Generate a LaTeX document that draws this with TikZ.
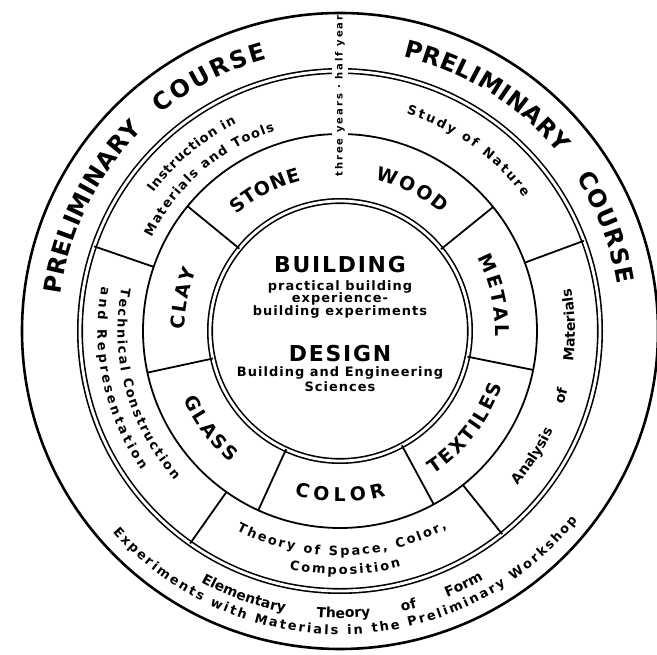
\documentclass[tikz,border=0pt]{standalone}
\usepackage{fontspec}
\setmainfont{DejaVu Sans}
\usetikzlibrary{decorations.text}

\begin{document}
\begin{tikzpicture}[x=1bp,y=1bp]
	\tikzset{rope/.style = {draw, line width=1.6bp, double distance=2.8bp}}
	\tikzset{ring/.style = {draw, line width=1.8bp}}
	\tikzset{spoke/.style = {draw, line width=1.8bp}}
	\tikzset{arctext/.style 2 args = {decorate, decoration={text along path, text align={fit to path}, text={|#1|#2}}}}
	\tikzset{gaptext/.style 2 args = {decorate, decoration={text along path, text align={fit to path stretching spaces}, text={|#1|#2}}}}
	\tikzset{bigtext/.style = {arctext={\fontsize{24}{26}\selectfont\bfseries}{#1}}}
	\tikzset{shoptext/.style = {arctext={\fontsize{19}{21}\selectfont\bfseries}{#1}}}
	\tikzset{smalltext/.style = {arctext={\fontsize{13}{15}\selectfont\bfseries}{#1}}}
	\tikzset{widetext/.style = {gaptext={\fontsize{14}{16}\selectfont\bfseries}{#1}}}
	\tikzset{coretext/.style = {font={\fontsize{13}{15}\selectfont\bfseries\addfontfeatures{LetterSpace=8}}, anchor=base, inner sep=0pt}}
	\tikzset{headtext/.style = {font={\fontsize{22}{24}\selectfont\bfseries\addfontfeatures{LetterSpace=8}}, anchor=base, inner sep=0pt}}
	\fill[white] (-340,-324) rectangle (317,331);
	\useasboundingbox (-340,-324) rectangle (317,331);
	%rings
	\draw[rope] (0,0) circle (260);
	\draw[ring] (0,0) circle (197);
	\node[fill=white, rotate=90, inner xsep=1bp, inner ysep=3bp, font={\fontsize{10}{12}\selectfont\bfseries\addfontfeatures{LetterSpace=20}}] (7) at (0,235) {three years · half year};
	\draw[line width=2.6bp] (0,0) circle (318);
	\draw[rope] (0,0) circle (130);
	%spokes
	\draw[spoke] (140.7:130) -- (140.7:197);
	\draw[spoke] (192.2:130) -- (192.2:197);
	\draw[spoke] (245.5:130) -- (245.5:197);
	\draw[spoke] (298.4:130) -- (298.4:197);
	\draw[spoke] (348.6:130) -- (348.6:197);
	\draw[spoke] (39:130) -- (39:197);
	\draw[spoke] (161:197) -- (161:260);
	\draw[spoke] (234.8:197) -- (234.8:260);
	\draw[spoke] (308.6:197) -- (308.6:260);
	\draw[spoke] (20.3:197) -- (20.3:260);
	%centre
	\node[headtext] (0) at (0,58) {BUILDING};
	\node[coretext] (1) at (0,40) {practical building};
	\node[coretext] (2) at (0,28) {experience-};
	\node[coretext] (3) at (0,15) {building experiments};
	\node[headtext] (4) at (0,-31) {DESIGN};
	\node[coretext] (5) at (0,-46) {Building and Engineering};
	\node[coretext] (6) at (0,-61) {Sciences};
	%outer ring
	\path[bigtext=PRELIMINARY] (172.5:281.5) arc[start angle=172.5, end angle=134.5, radius=281.5];
	\path[bigtext=COURSE] (129.5:281.5) arc[start angle=129.5, end angle=105, radius=281.5];
	\path[bigtext=PRELIMINARY] (77:281.5) arc[start angle=77, end angle=39, radius=281.5];
	\path[bigtext=COURSE] (33:281.5) arc[start angle=33, end angle=9.5, radius=281.5];
	\path[widetext={Elementary Theory of Form}] (-119:287) arc[start angle=-119, end angle=-60, radius=287];
	\path[smalltext={Experiments with Materials in the Preliminary Workshop}] (-138.5:303.5) arc[start angle=-138.5, end angle=-38.5, radius=303.5];
	%workshops
	\path[shoptext=STONE] (131.5:155.5) arc[start angle=131.5, end angle=104.5, radius=155.5];
	\path[shoptext=WOOD] (77:155.5) arc[start angle=77, end angle=49, radius=155.5];
	\path[shoptext=METAL] (28:155.5) arc[start angle=28, end angle=-2, radius=155.5];
	\path[shoptext=CLAY] (179.5:155.5) arc[start angle=179.5, end angle=157, radius=155.5];
	\path[shoptext=TEXTILES] (-57:171) arc[start angle=-57, end angle=-18.5, radius=171];
	\path[shoptext=COLOR] (-105.5:171) arc[start angle=-105.5, end angle=-74.5, radius=171];
	\path[shoptext=GLASS] (203.5:171) arc[start angle=203.5, end angle=230.5, radius=171];
	%subjects
	\path[smalltext={Instruction in}] (143.5:232) arc[start angle=143.5, end angle=116.5, radius=232];
	\path[smalltext={Materials and Tools}] (153.5:210.5) arc[start angle=153.5, end angle=108, radius=210.5];
	\path[smalltext={Study of Nature}] (73:227) arc[start angle=73, end angle=36, radius=227];
	\path[widetext={Analysis of Materials}] (-41:235) arc[start angle=-41, end angle=10.5, radius=235];
	\path[smalltext={Theory of Space, Color,}] (-117.5:224.5) arc[start angle=-117.5, end angle=-61.5, radius=224.5];
	\path[smalltext={Composition}] (-102:243.5) arc[start angle=-102, end angle=-75.5, radius=243.5];
	\path[smalltext={Technical Construction}] (168.8:222.5) arc[start angle=168.8, end angle=222, radius=222.5];
	\path[smalltext={and Representation}] (169.5:242.5) arc[start angle=169.5, end angle=215, radius=242.5];
\end{tikzpicture}
\end{document}
